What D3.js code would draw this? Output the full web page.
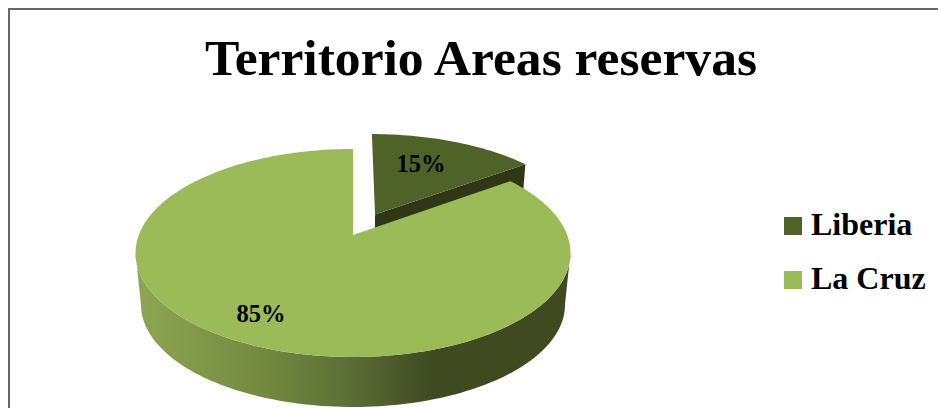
<!DOCTYPE html>
<html>
<head>
<meta charset="utf-8">
<script src="https://cdn.jsdelivr.net/npm/d3@7"></script>
<style>
  html, body { margin: 0; padding: 0; background: #fff; }
  svg { display: block; }
  text { font-family: "Liberation Serif", serif; font-weight: bold; fill: #000; }
</style>
</head>
<body>
<div id="chart"></div>
<script>
const title = "Territorio Areas reservas";
const categories = ["Liberia", "La Cruz"];
const shares = [15, 85];
const colors = ["#4f6228", "#9bbb59"];
const wallColors = ["#2e3816", "url(#wall)"];

const w = 938;
const h = 408;
const svg = d3.select("#chart").append("svg").attr("width", w).attr("height", h);

// front wall gets lighter to the left
const grad = svg.append("defs").append("linearGradient")
  .attr("id", "wall")
  .attr("gradientUnits", "userSpaceOnUse")
  .attr("x1", 135).attr("x2", 570).attr("y1", 0).attr("y2", 0);
grad.selectAll("stop")
  .data([[0, "#8ea752"], [0.3, "#72893f"], [0.5, "#5b6d35"], [0.68, "#3f4a21"], [1, "#3f4a21"]])
  .enter().append("stop")
  .attr("offset", (d) => d[0])
  .attr("stop-color", (d) => d[1]);

svg.append("rect")
  .attr("x", 9).attr("y", 9)
  .attr("width", w + 20).attr("height", h + 20)
  .attr("fill", "#fff").attr("stroke", "#666").attr("stroke-width", 2);

svg.append("text")
  .attr("x", 481).attr("y", 75)
  .attr("text-anchor", "middle")
  .attr("font-size", 51.6)
  .text(title);

// tilted disc: unit circle seen in perspective
const cx = 353;
const persp = 0.173;
const topFace = { cy: 235, a: 214.2, b: 100.9 };
const bottomFace = { cy: 287, a: 208.8, b: 99.2 };
const explode = 0.235;

function project(face, x, y) {
  const k = 1 + persp * y;
  return [cx + (face.a * x) / k, face.cy - (face.b * y) / k];
}

function rimPoints(face, slice, shift) {
  const steps = Math.ceil((slice.endAngle - slice.startAngle) * 40);
  return d3.range(steps + 1).map((i) => {
    const t = slice.startAngle + ((slice.endAngle - slice.startAngle) * i) / steps;
    return project(face, Math.sin(t) + shift[0], Math.cos(t) + shift[1]);
  });
}

// only the stretch of rim between the right and left extremes faces the viewer
function frontRim(points) {
  const right = d3.greatestIndex(points, (p) => p[0]);
  const left = d3.leastIndex(points, (p) => p[0]);
  return points.slice(right, left + 1);
}

const pie = d3.pie().sort(null);
const slices = pie(shares);
const line = d3.line();
const shifts = slices.map((s, i) => {
  if (i !== 0) return [0, 0];
  const mid = (s.startAngle + s.endAngle) / 2;
  return [explode * Math.sin(mid), explode * Math.cos(mid)];
});

// small slice sits behind the big one
slices.forEach((s, i) => {
  const shift = shifts[i];
  const topRim = rimPoints(topFace, s, shift);
  const bottomRim = rimPoints(bottomFace, s, shift);
  const apexTop = project(topFace, shift[0], shift[1]);
  const apexBottom = project(bottomFace, shift[0], shift[1]);
  const walls = i === 0
    ? [apexTop, topRim[topRim.length - 1], bottomRim[bottomRim.length - 1], apexBottom]
    : frontRim(topRim).concat(frontRim(bottomRim).reverse());
  svg.append("path").attr("d", line(walls) + "Z").attr("fill", wallColors[i]);
  svg.append("path").attr("d", line([apexTop].concat(topRim)) + "Z").attr("fill", colors[i]);
});

const labelPos = [[421, 172], [261, 322]];
svg.selectAll(".pct")
  .data(slices)
  .enter().append("text")
  .attr("class", "pct")
  .attr("x", (d, i) => labelPos[i][0])
  .attr("y", (d, i) => labelPos[i][1])
  .attr("text-anchor", "middle")
  .attr("font-size", 24.5)
  .text((d) => d.data + "%");

const legendY = d3.scalePoint().domain(categories).range([235, 289]);
const legend = svg.selectAll(".key")
  .data(categories)
  .enter().append("g")
  .attr("class", "key")
  .attr("transform", (d) => `translate(784, ${legendY(d)})`);
legend.append("rect")
  .attr("y", -18).attr("width", 18).attr("height", 18)
  .attr("fill", (d, i) => colors[i]);
legend.append("text")
  .attr("x", 27)
  .attr("font-size", 32)
  .text((d) => d);
</script>
</body>
</html>
